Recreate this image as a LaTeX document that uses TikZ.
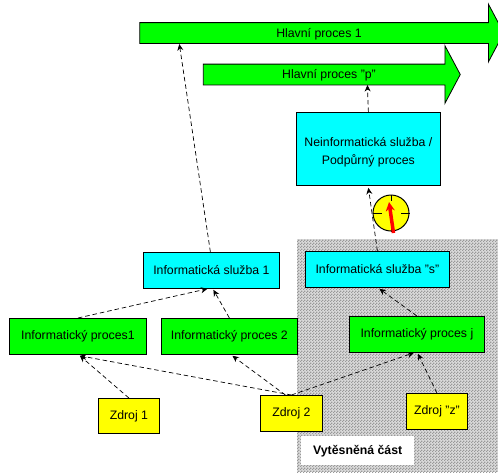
\documentclass[tikz,border=0pt]{standalone}
\usepackage{fontspec}
\setmainfont{Liberation Sans}
\usetikzlibrary{shapes.arrows,patterns,arrows.meta,calc}
\definecolor{bgreen}{RGB}{0,255,0}
\definecolor{bcyan}{RGB}{0,255,255}
\definecolor{byellow}{RGB}{255,255,0}
\definecolor{bred}{RGB}{255,0,0}
\pgfdeclarepatternformonly{dither}{\pgfpointorigin}{\pgfqpoint{3pt}{3pt}}{\pgfqpoint{3pt}{3pt}}{%
  \pgfpathrectangle{\pgfqpoint{0pt}{0pt}}{\pgfqpoint{1.5pt}{1.5pt}}%
  \pgfpathrectangle{\pgfqpoint{1.5pt}{1.5pt}}{\pgfqpoint{1.5pt}{1.5pt}}%
  \pgfusepath{fill}}
\tikzset{
  x=1pt,y=-1pt,
  boxnode/.style={draw=black,line width=0.8pt,inner sep=0pt,align=center,font=\fontsize{12.3}{18}\selectfont,anchor=north west},
  grn/.style={boxnode,fill=bgreen},
  cyn/.style={boxnode,fill=bcyan},
  ylw/.style={boxnode,fill=byellow},
  bigarrow/.style={single arrow,draw=black,line width=0.8pt,fill=bgreen,inner xsep=0pt,inner ysep=0pt,font=\fontsize{12.3}{14}\selectfont,
    text height=14pt,text depth=6pt,single arrow head extend=18.5pt,single arrow tip angle=124,single arrow head indent=0pt},
  dep/.style={dash pattern=on 4.5pt off 3pt,line width=0.7pt,-{Stealth[length=6.5pt,width=6pt]}}
}
\begin{document}
\begin{tikzpicture}
\useasboundingbox (0,0) rectangle (498,472);
\fill[black!14] (297,239) rectangle (498,472);
\fill[pattern=dither,pattern color=black!40] (297,239) rectangle (498,472);
\node[fill=white,inner sep=0pt,minimum width=113pt,minimum height=29pt,font=\bfseries\fontsize{12.3}{14}\selectfont,anchor=north west] (vyt) at (301,436) {Vytěsněná část};

\node[bigarrow,minimum height=364pt] (h1) at (319,33) {Hlavní proces 1};
\node[bigarrow,minimum height=257pt] (hp) at (329,74.5) {Hlavní proces "p"};

\node[cyn,minimum width=144pt,minimum height=73pt] (neinf) at (296,112) {\rule{0pt}{16pt}Neinformatická služba /\\Podpůrný proces};
\node[cyn,minimum width=144pt,minimum height=36pt] (ss) at (305,251) {Informatická služba "s"};
\node[cyn,minimum width=136pt,minimum height=36pt] (s1) at (143,252) {Informatická služba 1};
\node[grn,minimum width=137pt,minimum height=36pt] (p1) at (9,318) {Informatický proces1};
\node[grn,minimum width=136pt,minimum height=36pt] (p2) at (161,318) {Informatický proces 2};
\node[grn,minimum width=135pt,minimum height=36pt] (pj) at (349,316) {Informatický proces j};
\node[ylw,minimum width=61pt,minimum height=35pt] (z1) at (98,398) {Zdroj 1};
\node[ylw,minimum width=62pt,minimum height=36pt] (z2) at (260,395) {Zdroj 2};
\node[ylw,minimum width=61pt,minimum height=36pt] (zz) at (406,393) {Zdroj "z"};

\draw[dep] ($(s1.north)+(-1,0)$) -- ($(h1.west)+(40,11)$);
\draw[dep] ($(neinf.north)+(0,0)$) -- ($(neinf.north)+(-1,-27)$);
\draw[dep] ($(ss.north)+(0,0)$) -- ($(neinf.south)+(0,2)$);
\draw[dep] ($(pj.north)+(0,0)$) -- ($(ss.south)+(2,1)$);
\draw[dep] ($(zz.north)+(0,0)$) -- ($(pj.south)+(1,1)$);
\draw[dep] ($(z2.north)+(0,0)$) -- ($(pj.south)+(-3,0)$);
\draw[dep] ($(z2.north)+(0,0)$) -- ($(p1.south)+(2,1)$);
\draw[dep] ($(z2.north)+(-6,0)$) -- ($(p2.south)+(3,1)$);
\draw[dep] ($(z1.north)+(0,0)$) -- ($(p1.south)+(2,1)$);
\draw[dep] (p1.north) -- ($(s1.south)+(-4,0)$);
\draw[dep] (p2.north) -- ($(s1.south)+(2,1)$);

\node[circle,draw=black,line width=1pt,fill=byellow,minimum size=36pt,inner sep=0pt] (clock) at (391,213) {};
\draw[line width=0.8pt] (clock.north) -- ++(0,6) (clock.south) -- ++(0,-6) (clock.west) -- ++(9,0) (clock.east) -- ++(-9,0);
\draw[bred,line width=3.5pt,-{Stealth[length=9pt,width=9pt]}] ($(clock.center)+(2.5,20)$) -- ($(clock.center)+(-2,-11)$);
\end{tikzpicture}
\end{document}
